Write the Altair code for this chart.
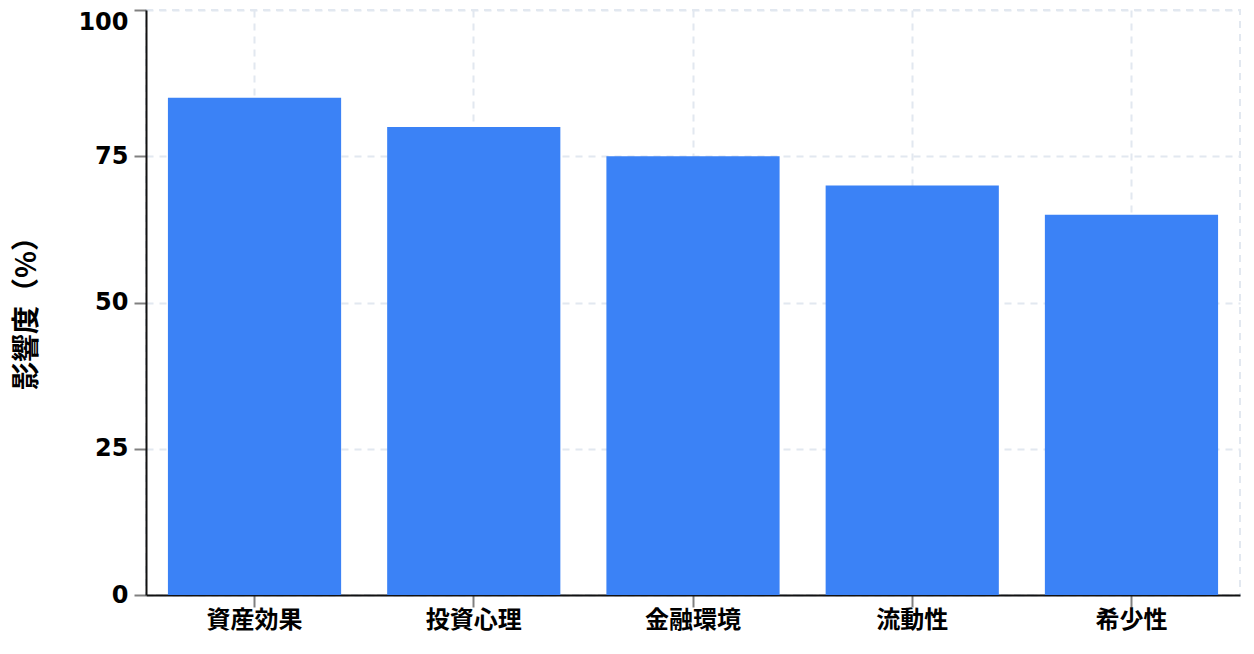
import altair as alt
import pandas as pd

categories = ["資産効果", "投資心理", "金融環境", "流動性", "希少性"]
values = [85, 80, 75, 70, 65]
y_ticks = [0, 25, 50, 75, 100]

df = pd.DataFrame({"factor": categories, "impact": values})

NUM_FONT = "DejaVu Sans, sans-serif"
CJK_FONT = "Noto Sans CJK JP, sans-serif"
GRID = "#e2e8f0"
DASH = [7, 6]

chart = (
    alt.Chart(df)
    .mark_bar(color="#3b82f6")
    .encode(
        x=alt.X(
            "factor:N",
            sort=categories,
            title=None,
            scale=alt.Scale(paddingInner=0.21, paddingOuter=0.1),
            axis=alt.Axis(
                labelAngle=0,
                labelFont=CJK_FONT,
                labelFontSize=24,
                labelFontWeight="bold",
                labelColor="#000000",
                labelPadding=1,
                tickSize=12,
                tickColor="#808080",
                tickWidth=2,
                domainColor="#111111",
                domainWidth=2,
                grid=True,
                gridColor=GRID,
                gridDash=DASH,
                gridWidth=2,
            ),
        ),
        y=alt.Y(
            "impact:Q",
            scale=alt.Scale(domain=[0, 100], nice=False),
            title="影響度（%）",
            axis=alt.Axis(
                values=y_ticks,
                labelFont=NUM_FONT,
                labelFontSize=24,
                labelFontWeight="bold",
                labelColor="#000000",
                labelPadding=6,
                labelBaseline=alt.ExprRef(expr="datum.value == 100 ? 'top' : 'middle'"),
                tickSize=12,
                tickColor="#808080",
                tickWidth=2,
                domainColor="#111111",
                domainWidth=2,
                grid=True,
                gridColor=GRID,
                gridDash=DASH,
                gridWidth=2,
                titleFont=CJK_FONT,
                titleFontSize=28,
                titleFontWeight="bold",
                titleColor="#000000",
                titleAngle=270,
                titleAlign="center",
                titleBaseline="middle",
                titleX=-119,
                titleY=296,
            ),
        ),
    )
    .properties(
        width=1094,
        height=585,
        autosize=alt.AutoSizeParams(type="none"),
        padding={"left": 138, "top": 2, "right": 6, "bottom": 45},
    )
    .configure_view(stroke=GRID, strokeDash=DASH, strokeWidth=2)
)

chart.save("out.html", embed_options={"renderer": "svg", "actions": False})
